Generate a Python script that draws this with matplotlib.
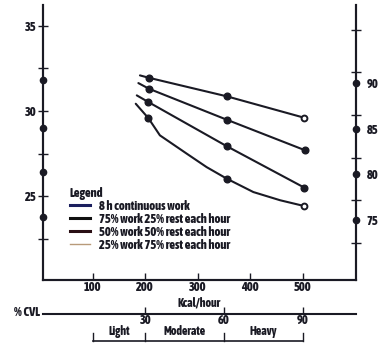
import matplotlib
matplotlib.use("Agg")
import matplotlib.pyplot as plt
from matplotlib.lines import Line2D
from matplotlib.transforms import blended_transform_factory

# kcal/hour vs. left scale
x_cont = [190, 207, 356, 503]
y_cont = [32.08, 31.94, 30.85, 29.60]
x_75 = [187, 207, 355, 505]
y_75 = [31.63, 31.30, 29.49, 27.69]
x_50 = [184, 206, 355, 503]
y_50 = [30.91, 30.52, 27.94, 25.51]
x_25 = [182, 206, 228, 279, 317, 355, 406, 457, 503]
y_25 = [30.42, 29.58, 28.57, 27.50, 26.71, 26.04, 25.25, 24.77, 24.43]

series_labels = ["8 h continuous work",
                 "75% work 25% rest each hour",
                 "50% work 50% rest each hour",
                 "25% work 75% rest each hour"]

x_ticks = [100, 200, 300, 400, 500]
left_major = [25, 30, 35]
left_minor = [22.5, 27.5, 32.5]
left_dots = [31.8, 29.0, 26.4, 23.8]
right_major = [75, 80, 85, 90]
right_minor = [72.5, 77.2, 81.8, 86.5, 91.2, 95.8]
cvl_ticks = [30, 60, 90]
work_levels = ["Light", "Moderate", "Heavy"]
level_bounds = [100, 200, 350, 500]

FONT = ["Asap Condensed", "Barlow Condensed", "DejaVu Sans"]
INK = "#1a1a24"
FS_TICK = 9
FS = 8.5

plt.rcParams["font.family"] = FONT
plt.rcParams["font.weight"] = 800
plt.rcParams["axes.labelweight"] = 800

fig = plt.figure(figsize=(3.79, 3.44), dpi=100)
ax = fig.add_axes([0.1127, 0.186, 0.8266, 0.7994])
ax2 = ax.twinx()

ax.set_xlim(4.8, 601.5)
ax.set_ylim(20.1, 36.2)
ax2.set_ylim(68.43, 98.54)

for a in (ax, ax2):
    a.spines["top"].set_visible(False)
    for s in ("left", "right", "bottom"):
        a.spines[s].set_linewidth(1.5)
        a.spines[s].set_color(INK)

# curves
for xs, ys in [(x_cont, y_cont), (x_75, y_75), (x_50, y_50), (x_25, y_25)]:
    ax.plot(xs, ys, color=INK, lw=1.5, solid_capstyle="round", zorder=3)

filled = [(x_cont, y_cont, [1, 2]), (x_75, y_75, [1, 2, 3]),
          (x_50, y_50, [1, 2, 3]), (x_25, y_25, [1, 5])]
for xs, ys, idx in filled:
    ax.plot([xs[i] for i in idx], [ys[i] for i in idx], "o", color=INK,
            ms=4.8, zorder=4)
for xs, ys in [(x_cont, y_cont), (x_25, y_25)]:
    ax.plot(xs[-1], ys[-1], "o", mfc="white", mec=INK, mew=1.4, ms=4.2, zorder=4)

# left axis
ax.set_yticks(left_major)
ax.set_yticks(left_minor, minor=True)
ax.tick_params(axis="y", which="both", direction="inout", length=7, width=1,
               colors=INK, labelsize=FS_TICK, pad=1)
ax.plot([0] * len(left_dots), left_dots, "o", color=INK, ms=4.5, clip_on=False,
        transform=blended_transform_factory(ax.transAxes, ax.transData), zorder=5)

# right axis
ax2.set_yticks(right_major)
ax2.set_yticks(right_minor, minor=True)
ax2.tick_params(axis="y", which="major", length=0, pad=7.5, colors=INK,
                labelsize=FS_TICK)
ax2.tick_params(axis="y", which="minor", direction="inout", length=7, width=1,
                colors=INK)
ax2.plot([1] * len(right_major), right_major, "o", color=INK, ms=4.5, clip_on=False,
         transform=blended_transform_factory(ax2.transAxes, ax2.transData), zorder=5)

# bottom axis
ax.set_xticks(x_ticks)
ax.tick_params(axis="x", direction="in", length=5, width=1, colors=INK,
               labelsize=FS_TICK, pad=1)
ax.set_xlabel("Kcal/hour", fontsize=FS, color=INK)
ax.xaxis.set_label_coords(0.5, -0.085)
ax.xaxis.label.set_va("center")

# % CVL scale
sec = ax.secondary_xaxis(-0.1247, functions=(lambda k: k * 0.2 - 10,
                                             lambda c: (c + 10) * 5))
sec.set_xticks(cvl_ticks)
sec.spines["bottom"].set_linewidth(1.5)
sec.spines["bottom"].set_color(INK)
sec.tick_params(direction="in", length=5, width=1, colors=INK,
                labelsize=FS_TICK, pad=0)
fig.text(40 / 379, 1 - 313 / 344, "% CVL", ha="right", va="center",
         fontsize=9, color=INK)

# work level bracket
tb = blended_transform_factory(ax.transData, ax.transAxes)
y_base, y_top = -0.2218, -0.1927
ax.plot([level_bounds[0], level_bounds[-1]], [y_base, y_base], color=INK, lw=1.2,
        transform=tb, clip_on=False)
for b in level_bounds:
    ax.plot([b, b], [y_base, y_top], color=INK, lw=1, transform=tb, clip_on=False)
for i, name in enumerate(work_levels):
    mid = (level_bounds[i] + level_bounds[i + 1]) / 2
    ax.text(mid, -0.188, name, ha="center", va="center", fontsize=FS, color=INK,
            transform=tb)

# legend
handles = [Line2D([], [], color="#1b1f5e", lw=2.2),
           Line2D([], [], color="#111111", lw=2.2),
           Line2D([], [], color="#2a0f14", lw=2.2),
           Line2D([], [], color="#b89a7a", lw=1.0)]
leg = ax.legend(handles, series_labels, title="Legend", loc="upper left",
                bbox_to_anchor=(0.087, 0.34), frameon=False, fontsize=9,
                title_fontsize=9, alignment="left", borderpad=0,
                borderaxespad=0, handlelength=1.6, handletextpad=0.75,
                labelspacing=0.0)
for t in leg.get_texts():
    t.set_color(INK)
leg.get_title().set_color(INK)
leg.get_title().set_weight(800)

fig.savefig("out.png", dpi=100)
